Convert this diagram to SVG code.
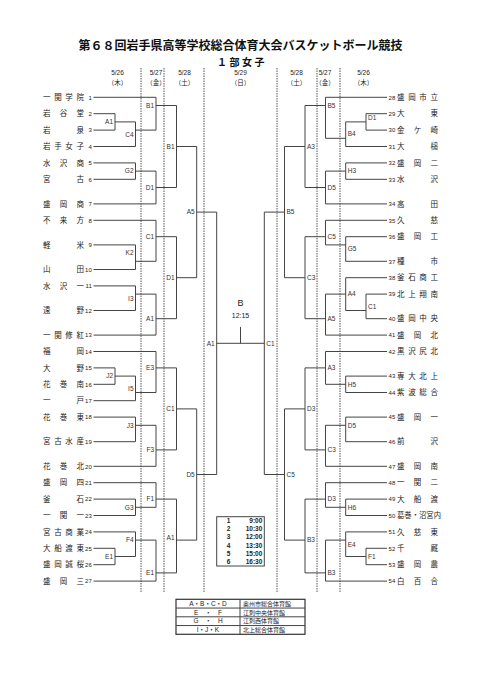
<svg xmlns="http://www.w3.org/2000/svg" width="481" height="680" viewBox="0 0 481 680">
<style>
.ln{fill:none;stroke:#444;stroke-width:1}
.dash{fill:none;stroke:#555;stroke-width:1;stroke-dasharray:1.5 1}
.nm{font-family:"Noto Sans CJK JP",sans-serif;font-size:7.5px;fill:#222}
.no{font-family:"Liberation Sans",Arial,sans-serif;font-size:6px;fill:#222}
.lb{font-family:"Liberation Sans",Arial,sans-serif;font-size:6.5px;fill:#333}
.e{text-anchor:end}
.m{text-anchor:middle}
.hd{font-family:"Liberation Sans",Arial,"Noto Sans CJK JP",sans-serif;font-size:6.5px;fill:#222;text-anchor:middle}
.tt{font-family:"Liberation Sans",Arial,sans-serif;font-size:6.5px;fill:#222;font-weight:bold}
.lg{font-family:"Liberation Sans","Noto Sans CJK JP",sans-serif;font-size:6.5px;fill:#222}
</style>
<rect width="481" height="680" fill="#fff"/>
<g id="title">
<text x="240.5" y="50" text-anchor="middle" style="font-family:'Noto Sans CJK JP',sans-serif;font-size:12px;font-weight:bold;fill:#111">第６８回岩手県高等学校総合体育大会バスケットボール競技</text>
<text x="217" y="66" style="font-family:'Noto Sans CJK JP',sans-serif;font-size:10px;font-weight:bold;fill:#111;letter-spacing:2.5px">１部女子</text>
</g>
<g id="dates">
<text class="hd" x="117.5" y="75">5/26</text><text class="hd" x="117.5" y="84.5">（木）</text>
<text class="hd" x="156" y="75">5/27</text><text class="hd" x="156" y="84.5">（金）</text>
<text class="hd" x="184.5" y="75">5/28</text><text class="hd" x="184.5" y="84.5">（土）</text>
<text class="hd" x="240.5" y="75">5/29</text><text class="hd" x="240.5" y="84.5">（日）</text>
<text class="hd" x="296.5" y="75">5/28</text><text class="hd" x="296.5" y="84.5">（土）</text>
<text class="hd" x="325" y="75">5/27</text><text class="hd" x="325" y="84.5">（金）</text>
<text class="hd" x="363.5" y="75">5/26</text><text class="hd" x="363.5" y="84.5">（木）</text>
</g>
<g id="day-lines">
<path class="dash" d="M141 68V592M164 68V592M204 68V592M277 68V592M317 68V592M340 68V592"/>
</g>
<g id="connectors">
<path class="ln" d="M93.5 97.3H156M93.5 113.7H115M93.5 130.1H115M93.5 146.5H135.5M93.5 162.9H135.5M93.5 179.3H135.5M93.5 203.9H156M93.5 220.3H156M93.5 244.9H135.5M93.5 269.5H135.5M93.5 285.9H135.5M93.5 310.5H135.5M93.5 335.1H156M93.5 351.5H156M93.5 367.9H115M93.5 384.3H115M93.5 400.7H135.5M93.5 417.1H135.5M93.5 441.7H135.5M93.5 466.3H156M93.5 482.7H156M93.5 499.1H135.5M93.5 515.5H135.5M93.5 531.9H135.5M93.5 548.3H115M93.5 564.7H115M93.5 581.1H156"/>
<path class="ln" d="M115 113.7V130.1M115 121.9H135.5M135.5 121.9V146.5M135.5 130.1H156M156 97.3V130.1M156 105.5H176.5M135.5 162.9V179.3M135.5 171.1H156M156 171.1V203.9M156 187.5H176.5M176.5 105.5V187.5M176.5 146.5H196.7M135.5 244.9V269.5M135.5 261.3H156M156 220.3V261.3M156 236.7H176.5M135.5 285.9V310.5M135.5 294.1H156M156 294.1V335.1M156 318.7H176.5M176.5 236.7V318.7M176.5 277.7H196.7M196.7 146.5V277.7M196.7 212.1H216.7M115 367.9V384.3M115 376.1H135.5M135.5 376.1V400.7M135.5 392.5H156M156 351.5V392.5M156 367.9H176.5M135.5 417.1V441.7M135.5 425.3H156M156 425.3V466.3M156 449.9H176.5M176.5 367.9V449.9M176.5 408.9H196.7M135.5 499.1V515.5M135.5 507.3H156M156 482.7V507.3M156 499.1H176.5M115 548.3V564.7M115 556.5H135.5M135.5 531.9V556.5M135.5 540.1H156M156 540.1V581.1M156 572.9H176.5M176.5 499.1V572.9M176.5 540.1H196.7M196.7 408.9V540.1M196.7 474.5H216.7M216.7 212.1V474.5M216.7 343.3H264.3M240.5 326.9V343.3"/>
<path class="ln" d="M325.5 97.3H387M366 113.7H387M366 130.1H387M345.7 146.5H387M345.7 162.9H387M345.7 179.3H387M325.5 203.9H387M325.5 220.3H387M345.7 236.7H387M345.7 261.3H387M345.7 277.7H387M366 294.1H387M366 318.7H387M325.5 335.1H387M325.5 351.5H387M345.7 376.1H387M345.7 392.5H387M345.7 417.1H387M345.7 441.7H387M325.5 466.3H387M325.5 482.7H387M345.7 499.1H387M345.7 515.5H387M345.7 531.9H387M366 548.3H387M366 564.7H387M325.5 581.1H387"/>
<path class="ln" d="M366 113.7V130.1M366 121.9H345.7M345.7 121.9V146.5M345.7 138.3H325.5M325.5 97.3V138.3M325.5 105.5H305M345.7 162.9V179.3M345.7 171.1H325.5M325.5 171.1V203.9M325.5 187.5H305M305 105.5V187.5M305 146.5H284.5M345.7 236.7V261.3M345.7 244.9H325.5M325.5 220.3V244.9M325.5 236.7H305M366 294.1V318.7M366 310.5H345.7M345.7 277.7V310.5M345.7 294.1H325.5M325.5 294.1V335.1M325.5 318.7H305M305 236.7V318.7M305 277.7H284.5M284.5 146.5V277.7M284.5 212.1H264.3M345.7 376.1V392.5M345.7 384.3H325.5M325.5 351.5V384.3M325.5 367.9H305M345.7 417.1V441.7M345.7 425.3H325.5M325.5 425.3V466.3M325.5 449.9H305M305 367.9V449.9M305 408.9H284.5M345.7 499.1V515.5M345.7 507.3H325.5M325.5 482.7V507.3M325.5 499.1H305M366 548.3V564.7M366 556.5H345.7M345.7 531.9V556.5M345.7 540.1H325.5M325.5 540.1V581.1M325.5 572.9H305M305 499.1V572.9M305 540.1H284.5M284.5 408.9V540.1M284.5 474.5H264.3M264.3 212.1V474.5"/>
</g>
<g id="final">
<text x="240.5" y="306.3" text-anchor="middle" style="font-family:'Liberation Sans',Arial,sans-serif;font-size:9px;fill:#222">B</text>
<text x="240.5" y="317.5" text-anchor="middle" style="font-family:'Liberation Sans',Arial,sans-serif;font-size:7px;fill:#222">12:15</text>
</g>
<g id="left-teams">
<g id="t1"><text class="nm" x="43" y="100" textLength="41">一関学院</text><text class="no e" x="91.8" y="99.5">1</text></g>
<g id="t2"><text class="nm" x="43" y="116.4" textLength="41">岩谷堂</text><text class="no e" x="91.8" y="115.9">2</text></g>
<g id="t3"><text class="nm" x="43" y="132.8" textLength="41">岩泉</text><text class="no e" x="91.8" y="132.3">3</text></g>
<g id="t4"><text class="nm" x="43" y="149.2" textLength="41">岩手女子</text><text class="no e" x="91.8" y="148.7">4</text></g>
<g id="t5"><text class="nm" x="43" y="165.6" textLength="41">水沢商</text><text class="no e" x="91.8" y="165.1">5</text></g>
<g id="t6"><text class="nm" x="43" y="182" textLength="41">宮古</text><text class="no e" x="91.8" y="181.5">6</text></g>
<g id="t7"><text class="nm" x="43" y="206.6" textLength="41">盛岡商</text><text class="no e" x="91.8" y="206.1">7</text></g>
<g id="t8"><text class="nm" x="43" y="223" textLength="41">不来方</text><text class="no e" x="91.8" y="222.5">8</text></g>
<g id="t9"><text class="nm" x="43" y="247.6" textLength="41">軽米</text><text class="no e" x="91.8" y="247.1">9</text></g>
<g id="t10"><text class="nm" x="43" y="272.2" textLength="41">山田</text><text class="no e" x="91.8" y="271.7">10</text></g>
<g id="t11"><text class="nm" x="43" y="288.6" textLength="41">水沢一</text><text class="no e" x="91.8" y="288.1">11</text></g>
<g id="t12"><text class="nm" x="43" y="313.2" textLength="41">遠野</text><text class="no e" x="91.8" y="312.7">12</text></g>
<g id="t13"><text class="nm" x="43" y="337.8" textLength="41">一関修紅</text><text class="no e" x="91.8" y="337.3">13</text></g>
<g id="t14"><text class="nm" x="43" y="354.2" textLength="41">福岡</text><text class="no e" x="91.8" y="353.7">14</text></g>
<g id="t15"><text class="nm" x="43" y="370.6" textLength="41">大野</text><text class="no e" x="91.8" y="370.1">15</text></g>
<g id="t16"><text class="nm" x="43" y="387" textLength="41">花巻南</text><text class="no e" x="91.8" y="386.5">16</text></g>
<g id="t17"><text class="nm" x="43" y="403.4" textLength="41">一戸</text><text class="no e" x="91.8" y="402.9">17</text></g>
<g id="t18"><text class="nm" x="43" y="419.8" textLength="41">花巻東</text><text class="no e" x="91.8" y="419.3">18</text></g>
<g id="t19"><text class="nm" x="43" y="444.4" textLength="41">宮古水産</text><text class="no e" x="91.8" y="443.9">19</text></g>
<g id="t20"><text class="nm" x="43" y="469" textLength="41">花巻北</text><text class="no e" x="91.8" y="468.5">20</text></g>
<g id="t21"><text class="nm" x="43" y="485.4" textLength="41">盛岡四</text><text class="no e" x="91.8" y="484.9">21</text></g>
<g id="t22"><text class="nm" x="43" y="501.8" textLength="41">釜石</text><text class="no e" x="91.8" y="501.3">22</text></g>
<g id="t23"><text class="nm" x="43" y="518.2" textLength="41">一関一</text><text class="no e" x="91.8" y="517.7">23</text></g>
<g id="t24"><text class="nm" x="43" y="534.6" textLength="41">宮古商業</text><text class="no e" x="91.8" y="534.1">24</text></g>
<g id="t25"><text class="nm" x="43" y="551" textLength="41">大船渡東</text><text class="no e" x="91.8" y="550.5">25</text></g>
<g id="t26"><text class="nm" x="43" y="567.4" textLength="41">盛岡誠桜</text><text class="no e" x="91.8" y="566.9">26</text></g>
<g id="t27"><text class="nm" x="43" y="583.8" textLength="41">盛岡三</text><text class="no e" x="91.8" y="583.3">27</text></g>
</g>
<g id="right-teams">
<g id="t28"><text class="no" x="388.6" y="99.5">28</text><text class="nm" x="397" y="100" textLength="41">盛岡市立</text></g>
<g id="t29"><text class="no" x="388.6" y="115.9">29</text><text class="nm" x="397" y="116.4" textLength="41">大東</text></g>
<g id="t30"><text class="no" x="388.6" y="132.3">30</text><text class="nm" x="397" y="132.8" textLength="41">金ケ崎</text></g>
<g id="t31"><text class="no" x="388.6" y="148.7">31</text><text class="nm" x="397" y="149.2" textLength="41">大槌</text></g>
<g id="t32"><text class="no" x="388.6" y="165.1">32</text><text class="nm" x="397" y="165.6" textLength="41">盛岡二</text></g>
<g id="t33"><text class="no" x="388.6" y="181.5">33</text><text class="nm" x="397" y="182" textLength="41">水沢</text></g>
<g id="t34"><text class="no" x="388.6" y="206.1">34</text><text class="nm" x="397" y="206.6" textLength="41">高田</text></g>
<g id="t35"><text class="no" x="388.6" y="222.5">35</text><text class="nm" x="397" y="223" textLength="41">久慈</text></g>
<g id="t36"><text class="no" x="388.6" y="238.9">36</text><text class="nm" x="397" y="239.4" textLength="41">盛岡工</text></g>
<g id="t37"><text class="no" x="388.6" y="263.5">37</text><text class="nm" x="397" y="264" textLength="41">種市</text></g>
<g id="t38"><text class="no" x="388.6" y="279.9">38</text><text class="nm" x="397" y="280.4" textLength="41">釜石商工</text></g>
<g id="t39"><text class="no" x="388.6" y="296.3">39</text><text class="nm" x="397" y="296.8" textLength="41">北上翔南</text></g>
<g id="t40"><text class="no" x="388.6" y="320.9">40</text><text class="nm" x="397" y="321.4" textLength="41">盛岡中央</text></g>
<g id="t41"><text class="no" x="388.6" y="337.3">41</text><text class="nm" x="397" y="337.8" textLength="41">盛岡北</text></g>
<g id="t42"><text class="no" x="388.6" y="353.7">42</text><text class="nm" x="397" y="354.2" textLength="41">黒沢尻北</text></g>
<g id="t43"><text class="no" x="388.6" y="378.3">43</text><text class="nm" x="397" y="378.8" textLength="41">専大北上</text></g>
<g id="t44"><text class="no" x="388.6" y="394.7">44</text><text class="nm" x="397" y="395.2" textLength="41">紫波総合</text></g>
<g id="t45"><text class="no" x="388.6" y="419.3">45</text><text class="nm" x="397" y="419.8" textLength="41">盛岡一</text></g>
<g id="t46"><text class="no" x="388.6" y="443.9">46</text><text class="nm" x="397" y="444.4" textLength="41">前沢</text></g>
<g id="t47"><text class="no" x="388.6" y="468.5">47</text><text class="nm" x="397" y="469" textLength="41">盛岡南</text></g>
<g id="t48"><text class="no" x="388.6" y="484.9">48</text><text class="nm" x="397" y="485.4" textLength="41">一関二</text></g>
<g id="t49"><text class="no" x="388.6" y="501.3">49</text><text class="nm" x="397" y="501.8" textLength="41">大船渡</text></g>
<g id="t50"><text class="no" x="388.6" y="517.7">50</text><text class="nm" x="397" y="518.2" textLength="44" lengthAdjust="spacingAndGlyphs">葛巻・沼宮内</text></g>
<g id="t51"><text class="no" x="388.6" y="534.1">51</text><text class="nm" x="397" y="534.6" textLength="41">久慈東</text></g>
<g id="t52"><text class="no" x="388.6" y="550.5">52</text><text class="nm" x="397" y="551" textLength="41">千厩</text></g>
<g id="t53"><text class="no" x="388.6" y="566.9">53</text><text class="nm" x="397" y="567.4" textLength="41">盛岡農</text></g>
<g id="t54"><text class="no" x="388.6" y="583.3">54</text><text class="nm" x="397" y="583.8" textLength="41">白百合</text></g>
</g>
<g id="match-labels-left">
<text class="lb e" x="113" y="124.2">A1</text>
<text class="lb e" x="133.5" y="136.5">C4</text>
<text class="lb e" x="154" y="107.8">B1</text>
<text class="lb e" x="133.5" y="173.4">G2</text>
<text class="lb e" x="154" y="189.8">D1</text>
<text class="lb e" x="174.5" y="148.8">B1</text>
<text class="lb e" x="133.5" y="254.6">K2</text>
<text class="lb e" x="154" y="239">C1</text>
<text class="lb e" x="133.5" y="300.5">I3</text>
<text class="lb e" x="154" y="321">A1</text>
<text class="lb e" x="174.5" y="280">D1</text>
<text class="lb e" x="194.7" y="214.4">A5</text>
<text class="lb e" x="113" y="378.4">J2</text>
<text class="lb e" x="133.5" y="390.7">I5</text>
<text class="lb e" x="154" y="370.2">E3</text>
<text class="lb e" x="133.5" y="427.6">J3</text>
<text class="lb e" x="154" y="452.2">F3</text>
<text class="lb e" x="174.5" y="411.2">C1</text>
<text class="lb e" x="133.5" y="509.6">G3</text>
<text class="lb e" x="154" y="501.4">F1</text>
<text class="lb e" x="113" y="558.8">E1</text>
<text class="lb e" x="133.5" y="542.4">F4</text>
<text class="lb e" x="154" y="575.2">E1</text>
<text class="lb e" x="174.5" y="540.3">A1</text>
<text class="lb e" x="194.7" y="476.8">D5</text>
<text class="lb e" x="214.7" y="345.6">A1</text>
</g>
<g id="match-labels-right">
<text class="lb" x="368" y="119.6">D1</text>
<text class="lb" x="347.7" y="136.3">B4</text>
<text class="lb" x="327.5" y="107.8">B5</text>
<text class="lb" x="347.7" y="173.4">H3</text>
<text class="lb" x="327.5" y="189.8">D5</text>
<text class="lb" x="307" y="148.8">A3</text>
<text class="lb" x="347.7" y="251.3">G5</text>
<text class="lb" x="327.5" y="239">C5</text>
<text class="lb" x="368" y="308.7">C1</text>
<text class="lb" x="347.7" y="295.6">A4</text>
<text class="lb" x="327.5" y="321">A5</text>
<text class="lb" x="307" y="280">C3</text>
<text class="lb" x="286.5" y="214.4">B5</text>
<text class="lb" x="347.7" y="386.6">H5</text>
<text class="lb" x="327.5" y="370.2">A3</text>
<text class="lb" x="347.7" y="427.6">D5</text>
<text class="lb" x="327.5" y="452.2">C3</text>
<text class="lb" x="307" y="411.2">D3</text>
<text class="lb" x="347.7" y="509.6">H6</text>
<text class="lb" x="327.5" y="501.4">D3</text>
<text class="lb" x="368" y="558.8">F1</text>
<text class="lb" x="347.7" y="546.5">E4</text>
<text class="lb" x="327.5" y="575.2">B3</text>
<text class="lb" x="307" y="542.4">B3</text>
<text class="lb" x="286.5" y="476.8">C5</text>
<text class="lb" x="266.3" y="345.6">C1</text>
</g>
<g id="time-table">
<rect x="216.7" y="516.7" width="47.6" height="49.3" fill="none" stroke="#444" stroke-width="1"/>
<text class="tt m" x="228.5" y="523">1</text><text class="tt e" x="262.3" y="523">9:00</text>
<text class="tt m" x="228.5" y="531.2">2</text><text class="tt e" x="262.3" y="531.2">10:30</text>
<text class="tt m" x="228.5" y="539.4">3</text><text class="tt e" x="262.3" y="539.4">12:00</text>
<text class="tt m" x="228.5" y="547.6">4</text><text class="tt e" x="262.3" y="547.6">13:30</text>
<text class="tt m" x="228.5" y="555.8">5</text><text class="tt e" x="262.3" y="555.8">15:00</text>
<text class="tt m" x="228.5" y="564">6</text><text class="tt e" x="262.3" y="564">16:30</text>
</g>
<g id="venue-table">
<rect x="176" y="599.3" width="129" height="35" fill="none" stroke="#333" stroke-width="1.2"/>
<path class="ln" d="M176 608.05H305M176 616.8H305M176 625.55H305M240 599.3V634.3"/>
<text class="lg m" x="208" y="605.9">A・B・C・D</text>
<text class="lg m" x="208" y="614.6">E　・　F</text>
<text class="lg m" x="208" y="623.4">G　・　H</text>
<text class="lg m" x="208" y="632.1">I・J・K</text>
<text class="lg" x="243" y="605.9" style="font-size:6px">奥州市総合体育館</text>
<text class="lg" x="243" y="614.6" style="font-size:6px">江刺中央体育館</text>
<text class="lg" x="243" y="623.4" style="font-size:6px">江刺西体育館</text>
<text class="lg" x="243" y="632.1" style="font-size:6px">北上総合体育館</text>
</g>
</svg>
